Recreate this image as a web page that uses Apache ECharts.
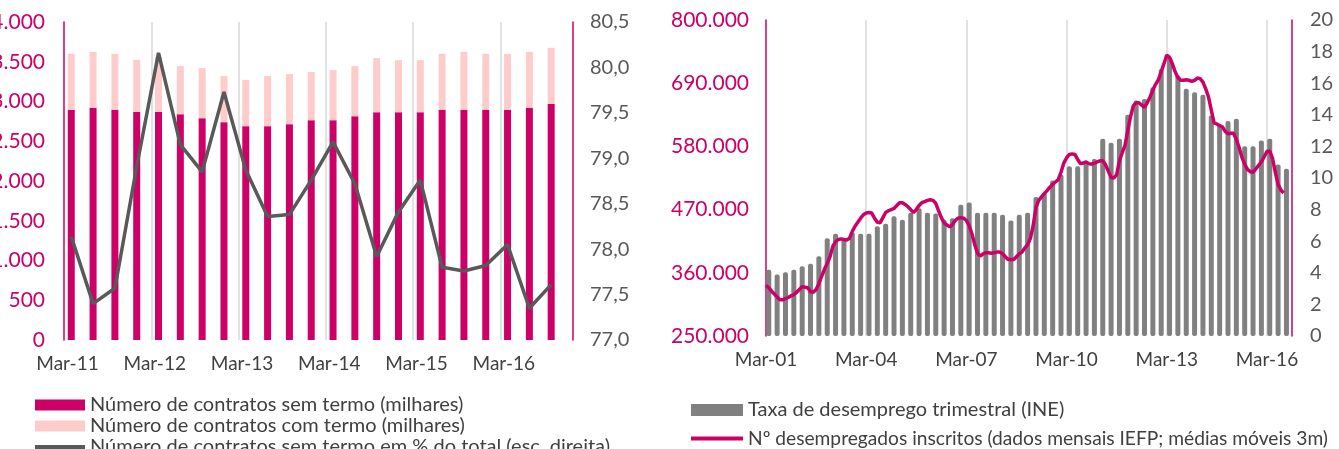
<!DOCTYPE html>
<html><head><meta charset="utf-8">
<script src="https://cdn.jsdelivr.net/npm/echarts@6/dist/echarts.min.js"></script>
<style>html,body{margin:0;padding:0;background:#fff;}#c{width:1339px;height:449px;}</style>
</head><body><div id="c"></div>
<script>
// ---------- Left chart: contracts (quarterly, Mar-11 .. Sep-16) ----------
const contractQuarters = ['Mar-11','Jun-11','Sep-11','Dec-11','Mar-12','Jun-12','Sep-12','Dec-12',
  'Mar-13','Jun-13','Sep-13','Dec-13','Mar-14','Jun-14','Sep-14','Dec-14',
  'Mar-15','Jun-15','Sep-15','Dec-15','Mar-16','Jun-16','Sep-16'];
const contractTickLabels = ['Mar-11','Mar-12','Mar-13','Mar-14','Mar-15','Mar-16'];
const semTermo = [2895,2920,2895,2870,2870,2840,2790,2740,2690,2690,2715,2765,2765,2815,2865,2865,2865,2895,2895,2895,2895,2920,2970];
const comTermo = [705,705,705,655,690,605,630,580,580,630,630,605,630,630,680,655,655,705,730,705,705,705,705];
const pctSemTermo = [78.14,77.40,77.57,78.91,80.16,79.15,78.85,79.73,78.87,78.36,78.38,78.76,79.18,78.72,77.92,78.41,78.76,77.80,77.76,77.82,78.05,77.35,77.61];

// ---------- Right chart: unemployment ----------
const unempTickLabels = ['Mar-01','Mar-04','Mar-07','Mar-10','Mar-13','Mar-16'];
// quarterly rate (%), Mar-01 .. Sep-16
const taxaDesemprego = [4.19,3.89,4.04,4.19,4.42,4.57,5.05,6.19,6.47,6.19,6.57,6.47,6.47,6.95,7.10,7.58,
  7.35,7.80,8.09,7.80,7.75,7.35,7.45,8.30,8.45,7.80,7.80,7.80,7.67,7.31,7.67,7.80,
  8.80,9.06,9.84,10.22,10.75,10.75,10.96,11.21,12.48,12.23,12.48,14.00,14.90,15.00,15.75,16.90,
  17.65,16.50,15.65,15.43,15.27,13.96,13.32,13.60,13.75,12.01,12.01,12.37,12.48,10.85,10.58];
// registered unemployed (thousands), monthly from Feb-01
const inscritosMil = [
  338,334,328,323,318,313,313,315,317,320,
  322,326,331,336,335,334,327,326,331,341,
  354,366,376,388,406,414,418,419,418,417,
  420,432,441,448,455,461,464,465,464,455,
  448,447,456,465,468,470,472,477,482,482,
  479,475,470,465,470,477,482,484,486,487,
  486,481,468,456,447,443,440,444,451,455,
  456,455,451,442,428,409,394,389,393,395,
  395,394,395,396,396,393,388,383,383,383,
  388,393,396,403,409,420,442,474,486,492,
  498,503,509,514,518,522,535,551,560,566,
  567,566,557,550,551,553,550,549,551,553,
  555,555,548,537,526,525,531,555,569,582,
  608,632,651,656,656,652,648,656,666,678,
  688,696,710,724,739,735,724,710,700,695,
  695,696,695,693,695,699,698,692,680,666,
  643,621,619,616,614,606,602,603,603,592,
  578,561,549,540,536,535,541,547,553,562,
  571,572,559,535,514,504,499];

const MAG = '#CC0066', PINK = '#FFCCCC', DGRAY = '#595959', BGRAY = '#808080', GRID = '#D9D9D9', TXT = '#404040';
const FONT = 'Lato';
const dots = v => String(Math.round(v)).replace(/\B(?=(\d{3})+(?!\d))/g, '.');

// month slots: quarter i sits at month slot 3*i+1
const qPos = i => 3 * i + 1;
const LEFT_MONTHS = 70, RIGHT_MONTHS = 189;
const slots = n => Array.from({length: n + 1}, (_, j) => String(j));

const chart = echarts.init(document.getElementById('c'), null, {renderer: 'canvas'});
chart.setOption({
  animation: false,
  backgroundColor: '#fff',
  textStyle: {fontFamily: FONT},
  grid: [
    {left: 64, right: 766, top: 22, bottom: 109, containLabel: false, outerBoundsMode: 'none'},
    {left: 766, right: 47, top: 20, bottom: 113, containLabel: false, outerBoundsMode: 'none'}
  ],
  legend: [
    {
      orient: 'vertical', left: 30, top: 390, height: 150, itemWidth: 50, itemHeight: 11, itemGap: 1,
      textStyle: {fontFamily: FONT, fontSize: 20, color: TXT},
      data: [
        {name: 'Número de contratos sem termo (milhares)', icon: 'rect'},
        {name: 'Número de contratos com termo (milhares)', icon: 'rect'},
        {name: 'Número de contratos sem termo em % do total (esc. direita)', icon: 'path://M0,0H50V4H0Z'}
      ]
    },
    {
      orient: 'vertical', left: 686, top: 395, height: 150, itemWidth: 52, itemHeight: 12, itemGap: 9,
      textStyle: {fontFamily: FONT, fontSize: 19.2, color: TXT},
      data: [
        {name: 'Taxa de desemprego trimestral (INE)', icon: 'rect', textStyle: {fontSize: 20}},
        {name: 'Nº desempregados inscritos (dados mensais IEFP; médias móveis 3m)', icon: 'path://M0,0H52V4H0Z'}
      ]
    }
  ],
  xAxis: [
    {
      type: 'value', gridIndex: 0, min: 0, max: LEFT_MONTHS, interval: 12,
      axisLine: {show: false}, axisTick: {show: false},
      splitLine: {show: true, showMinLine: false, showMaxLine: false, lineStyle: {color: GRID, width: 1.5}},
      axisLabel: {
        margin: 14, fontFamily: FONT, fontSize: 19, color: TXT, padding: [0, 0, 0, 7],
        formatter: v => { const k = v / 12; return Number.isInteger(k) && k < contractTickLabels.length ? contractTickLabels[k] : ''; }
      }
    },
    {
      type: 'value', gridIndex: 1, min: 0, max: RIGHT_MONTHS, interval: 36,
      axisLine: {show: false}, axisTick: {show: false},
      splitLine: {show: true, showMinLine: false, showMaxLine: false, lineStyle: {color: GRID, width: 1.5}},
      axisLabel: {
        margin: 14, fontFamily: FONT, fontSize: 19, color: TXT,
        formatter: v => { const k = v / 36; return Number.isInteger(k) && k < unempTickLabels.length ? unempTickLabels[k] : ''; }
      }
    },
    {type: 'category', gridIndex: 0, show: false, boundaryGap: false, data: slots(LEFT_MONTHS)},
    {type: 'category', gridIndex: 1, show: false, boundaryGap: false, data: slots(RIGHT_MONTHS)}
  ],
  yAxis: [
    {
      type: 'value', gridIndex: 0, position: 'left', min: 0, max: 4000, interval: 500,
      axisLine: {show: true, lineStyle: {color: MAG, width: 1.5}}, axisTick: {show: false}, splitLine: {show: false},
      axisLabel: {margin: 19, fontFamily: FONT, fontSize: 21, color: MAG, formatter: dots}
    },
    {
      type: 'value', gridIndex: 0, position: 'right', min: 77, max: 80.5, interval: 0.5,
      axisLine: {show: true, lineStyle: {color: MAG, width: 1.5}}, axisTick: {show: false}, splitLine: {show: false},
      axisLabel: {margin: 17, fontFamily: FONT, fontSize: 20, color: DGRAY, formatter: v => v.toFixed(1).replace('.', ',')}
    },
    {
      type: 'value', gridIndex: 1, position: 'left', min: 250000, max: 800000, interval: 110000,
      axisLine: {show: true, lineStyle: {color: MAG, width: 1.5}}, axisTick: {show: false}, splitLine: {show: false},
      axisLabel: {margin: 17, fontFamily: FONT, fontSize: 21, color: MAG, formatter: dots}
    },
    {
      type: 'value', gridIndex: 1, position: 'right', min: 0, max: 20, interval: 2,
      axisLine: {show: true, lineStyle: {color: MAG, width: 1.5}}, axisTick: {show: false}, splitLine: {show: false},
      axisLabel: {margin: 18, fontFamily: FONT, fontSize: 20, color: DGRAY}
    }
  ],
  series: [
    {
      name: 'Número de contratos sem termo (milhares)', type: 'bar', stack: 'c', xAxisIndex: 2, yAxisIndex: 0,
      barWidth: 7, itemStyle: {color: MAG}, clip: false,
      data: semTermo.map((v, i) => [qPos(i), v])
    },
    {
      name: 'Número de contratos com termo (milhares)', type: 'bar', stack: 'c', xAxisIndex: 2, yAxisIndex: 0,
      barWidth: 7, itemStyle: {color: PINK}, clip: false,
      data: comTermo.map((v, i) => [qPos(i), v])
    },
    {
      name: 'Número de contratos sem termo em % do total (esc. direita)', type: 'line', xAxisIndex: 2, yAxisIndex: 1,
      symbol: 'none', lineStyle: {color: DGRAY, width: 3.5}, itemStyle: {color: DGRAY},
      data: pctSemTermo.map((v, i) => [qPos(i), v])
    },
    {
      name: 'Taxa de desemprego trimestral (INE)', type: 'bar', xAxisIndex: 3, yAxisIndex: 3,
      barWidth: 5, itemStyle: {color: BGRAY, borderRadius: 2}, clip: false,
      data: taxaDesemprego.map((v, i) => [qPos(i), v])
    },
    {
      name: 'Nº desempregados inscritos (dados mensais IEFP; médias móveis 3m)', type: 'line', xAxisIndex: 3, yAxisIndex: 2,
      symbol: 'none', lineStyle: {color: MAG, width: 3.5}, itemStyle: {color: MAG},
      data: inscritosMil.map((v, k) => [k, v * 1000])
    }
  ]
});
</script></body></html>
